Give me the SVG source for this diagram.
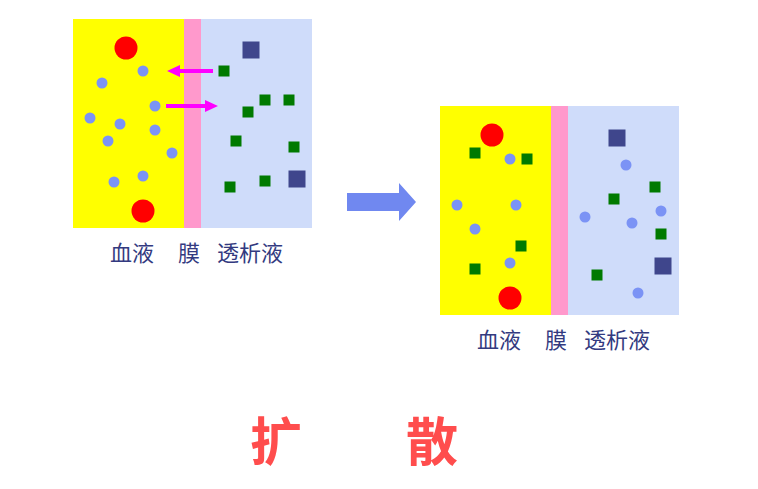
<svg xmlns="http://www.w3.org/2000/svg" width="758" height="489" viewBox="0 0 758 489">
<style>
.y{fill:#ffff00}.p{fill:#ff99cc}.b{fill:#cfdcfa}
.r{fill:#ff0000}.d{fill:#7b93f5}.g{fill:#007a00}.n{fill:#3f468c}
.lb{font-family:"Noto Sans CJK SC",sans-serif;font-size:22px;fill:#333a80}
.t{font-family:"Noto Sans CJK SC",sans-serif;font-size:52px;font-weight:bold;fill:#ff4d4d}
</style>
<defs>
<g id="gs"><rect x="-5.5" y="-5.5" width="11" height="11" class="g"/></g>
<g id="ns"><rect x="-8.5" y="-8.5" width="17" height="17" class="n"/></g>
<circle id="dc" r="5.5" class="d"/>
<circle id="rc" r="11.5" class="r"/>
</defs>
<g id="before">
<rect x="73" y="19" width="111" height="209" class="y"/>
<rect x="184" y="19" width="17" height="209" class="p"/>
<rect x="201" y="19" width="111" height="209" class="b"/>
<use href="#rc" x="126" y="48"/><use href="#rc" x="143" y="211"/>
<use href="#dc" x="143" y="71"/><use href="#dc" x="102" y="83"/><use href="#dc" x="155" y="106"/><use href="#dc" x="90" y="118"/><use href="#dc" x="120" y="124"/><use href="#dc" x="155" y="130"/><use href="#dc" x="108" y="141"/><use href="#dc" x="172" y="153"/><use href="#dc" x="114" y="182"/><use href="#dc" x="143" y="176"/>
<use href="#gs" x="224" y="71"/><use href="#gs" x="265" y="100"/><use href="#gs" x="289" y="100"/><use href="#gs" x="248" y="112"/><use href="#gs" x="236" y="141"/><use href="#gs" x="294" y="147"/><use href="#gs" x="230" y="187"/><use href="#gs" x="265" y="181"/>
<use href="#ns" x="251" y="50"/><use href="#ns" x="297" y="179"/>
<text x="110" y="261" class="lb">血液</text><text x="178" y="261" class="lb">膜</text><text x="217" y="261" class="lb">透析液</text>
</g>
<g id="after">
<rect x="440" y="106" width="111" height="209" class="y"/>
<rect x="551" y="106" width="17" height="209" class="p"/>
<rect x="568" y="106" width="111" height="209" class="b"/>
<use href="#rc" x="492" y="135"/><use href="#rc" x="510" y="298"/>
<use href="#dc" x="510" y="159"/><use href="#dc" x="457" y="205"/><use href="#dc" x="516" y="205"/><use href="#dc" x="475" y="229"/><use href="#dc" x="510" y="263"/><use href="#dc" x="626" y="165"/><use href="#dc" x="585" y="217"/><use href="#dc" x="632" y="223"/><use href="#dc" x="661" y="211"/><use href="#dc" x="638" y="293"/>
<use href="#gs" x="475" y="153"/><use href="#gs" x="527" y="159"/><use href="#gs" x="614" y="199"/><use href="#gs" x="655" y="187"/><use href="#gs" x="661" y="234"/><use href="#gs" x="521" y="246"/><use href="#gs" x="475" y="269"/><use href="#gs" x="597" y="275"/>
<use href="#ns" x="617" y="138"/><use href="#ns" x="663" y="266"/>
<text x="477" y="348" class="lb">血液</text><text x="545" y="348" class="lb">膜</text><text x="584" y="348" class="lb">透析液</text>
</g>
<g id="connectors">
<polygon points="213,69 180,69 180,65 167,71 180,77 180,73 213,73" fill="#ff00ff"/>
<polygon points="166,104 205,104 205,100 218,106 205,112 205,108 166,108" fill="#ff00ff"/>
<polygon points="347,193 399,193 399,183 416,202 399,221 399,211 347,211" fill="#7088f0"/>
</g>
<text x="250" y="461" class="t">扩</text>
<text x="406" y="461" class="t">散</text>
</svg>
